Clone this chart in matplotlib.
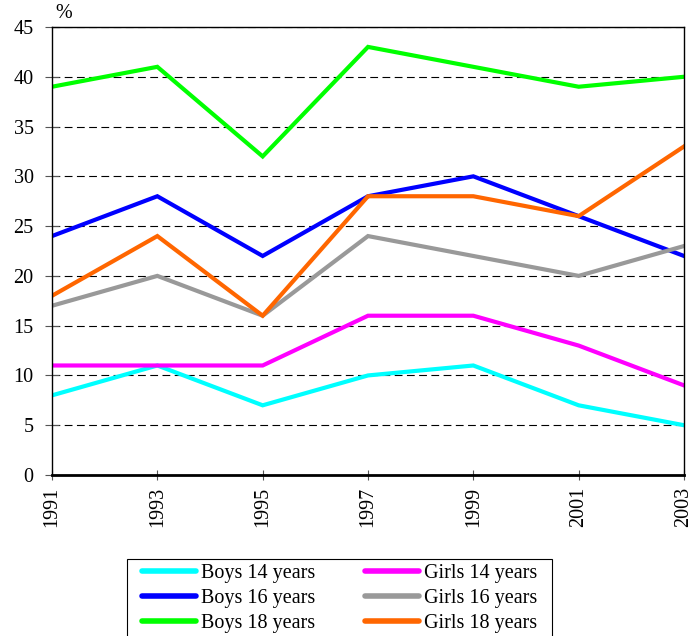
import matplotlib.pyplot as plt
from matplotlib.patches import Rectangle

years = [1991, 1993, 1995, 1997, 1999, 2001, 2003]

boys_14 = [8, 11, 7, 10, 11, 7, 5]
boys_16 = [24, 28, 22, 28, 30, 26, 22]
boys_18 = [39, 41, 32, 43, 41, 39, 40]
girls_14 = [11, 11, 11, 16, 16, 13, 9]
girls_16 = [17, 20, 16, 24, 22, 20, 23]
girls_18 = [18, 24, 16, 28, 28, 26, 33]

plt.rcParams['font.family'] = ['Liberation Serif', 'DejaVu Serif']
plt.rcParams['font.size'] = 14.5

fig = plt.figure(figsize=(6.9, 6.36), dpi=100)
ax = fig.add_axes([52 / 690, 1 - 475 / 636, 632 / 690, 448 / 636])

series = [
    ("Boys 14 years", boys_14, "#00ffff"),
    ("Boys 16 years", boys_16, "#0000ff"),
    ("Boys 18 years", boys_18, "#00ff00"),
    ("Girls 14 years", girls_14, "#ff00ff"),
    ("Girls 16 years", girls_16, "#999999"),
    ("Girls 18 years", girls_18, "#ff6600"),
]
for label, values, color in series:
    ax.plot(years, values, color=color, lw=3, label=label, solid_joinstyle='miter')

ax.set_xlim(1991, 2003)
ax.set_ylim(0, 45)
ax.set_xticks(years)
ax.set_yticks(range(0, 46, 5))
# ticks cross the axis lines, as in the original
ax.tick_params(axis='x', labelrotation=90, direction='inout', length=7, pad=5, color='#555555')
ax.tick_params(axis='y', direction='inout', length=9.5, pad=8.5, color='#555555')
ax.yaxis.grid(True, color='black', linestyle=(0, (7, 4)), lw=0.8)
for s in ax.spines.values():
    s.set_linewidth(1)
ax.spines['bottom'].set_linewidth(2)
ax.text(0.005, 1.008, "%", transform=ax.transAxes, ha='left', va='bottom')

# legend frame drawn by hand, it runs past the bottom of the picture
fig.patches.append(Rectangle((127 / 690, -0.05), 425 / 690, 1 - 559 / 636 + 0.05,
                             transform=fig.transFigure, fill=False,
                             edgecolor='black', lw=0.8))
handles, labels = ax.get_legend_handles_labels()
leg = fig.legend(handles, labels, ncol=2, loc='upper center',
                 bbox_to_anchor=(339.5 / 690, 1 - 564 / 636),
                 frameon=False, borderpad=0, borderaxespad=0,
                 handlelength=2.65, handletextpad=0.25, columnspacing=2.5,
                 labelspacing=0.3)
for line in leg.get_lines():
    line.set_linewidth(4)
    line.set_solid_capstyle('round')

fig.savefig("out.png", dpi=100)
